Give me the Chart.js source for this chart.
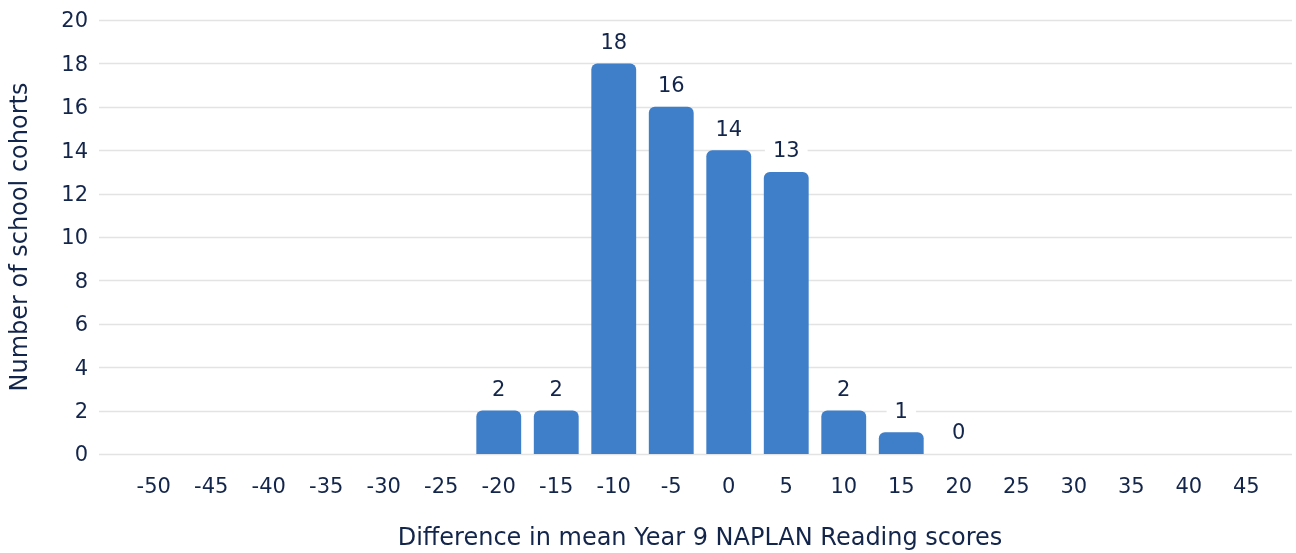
<!DOCTYPE html>
<html>
<head>
<meta charset="utf-8">
<script src="https://cdn.jsdelivr.net/npm/chart.js@4/dist/chart.umd.min.js"></script>
<style>
  html, body { margin: 0; padding: 0; background: #ffffff; }
  #wrap { width: 1296px; height: 553px; position: relative; }
</style>
</head>
<body>
<div id="wrap"><canvas id="c" width="1296" height="553"></canvas></div>
<script>
// Score-difference bins (lower edge) and number of school cohorts in each
const bins = ['-50','-45','-40','-35','-30','-25','-20','-15','-10','-5','0','5','10','15','20','25','30','35','40','45'];
const cohorts = [null, null, null, null, null, null, 2, 2, 18, 16, 14, 13, 2, 1, 0, null, null, null, null, null];
const yTicks = [0, 2, 4, 6, 8, 10, 12, 14, 16, 18, 20];

const INK = '#13254a';
const BAR = '#3f7ec8';
const GRID = '#e3e3e3';
const FONT = "'DejaVu Sans', sans-serif";

// Horizontal grid lines that run a little past the plot area on both sides
const wideGrid = {
  id: 'wideGrid',
  beforeDatasetsDraw(chart) {
    const { ctx, chartArea, scales } = chart;
    ctx.save();
    ctx.strokeStyle = GRID;
    ctx.lineWidth = 1.3;
    yTicks.forEach(v => {
      const y = Math.round(scales.y.getPixelForValue(v)) + 0.5;
      ctx.beginPath();
      ctx.moveTo(chartArea.left - 26, y);
      ctx.lineTo(chartArea.right + 17, y);
      ctx.stroke();
    });
    ctx.restore();
  }
};

// Value labels above the bars, on a white box
const valueLabels = {
  id: 'valueLabels',
  afterDatasetsDraw(chart) {
    const { ctx } = chart;
    const meta = chart.getDatasetMeta(0);
    ctx.save();
    ctx.font = "21px " + FONT;
    ctx.textAlign = 'center';
    ctx.textBaseline = 'middle';
    meta.data.forEach((bar, i) => {
      const v = cohorts[i];
      if (v === null || v === undefined) return;
      const txt = String(v);
      const cx = bar.x;
      const cy = bar.y - 21;
      const w = ctx.measureText(txt).width + 16;
      ctx.fillStyle = '#ffffff';
      ctx.fillRect(cx - w / 2, cy - 13, w, 26);
      ctx.fillStyle = INK;
      ctx.fillText(txt, cx, cy + 1);
    });
    ctx.restore();
  }
};

new Chart(document.getElementById('c'), {
  type: 'bar',
  data: {
    labels: bins,
    datasets: [{
      data: cohorts,
      backgroundColor: BAR,
      borderRadius: { topLeft: 6, topRight: 6, bottomLeft: 0, bottomRight: 0 },
      borderSkipped: 'start',
      categoryPercentage: 1.0,
      barPercentage: 0.78
    }]
  },
  options: {
    responsive: false,
    animation: false,
    devicePixelRatio: 1,
    layout: { padding: { left: 6, right: 21, top: 20, bottom: 0 } },
    plugins: { legend: { display: false }, tooltip: { enabled: false } },
    scales: {
      x: {
        grid: { display: false, drawTicks: false },
        border: { display: false },
        ticks: { color: INK, font: { family: FONT, size: 21 }, padding: 21, maxRotation: 0, autoSkip: false },
        title: { display: true, text: 'Difference in mean Year 9 NAPLAN Reading scores', color: INK, font: { family: FONT, size: 24 }, padding: { top: 20, bottom: 0 } },
        afterFit(s) { s.height = 99; }
      },
      y: {
        min: 0, max: 20,
        afterBuildTicks(s) { s.ticks = yTicks.map(v => ({ value: v })); },
        grid: { display: false, drawTicks: false },
        border: { display: false },
        ticks: { color: INK, font: { family: FONT, size: 21 }, padding: 37, labelOffset: 2 },
        title: { display: true, text: 'Number of school cohorts', color: INK, font: { family: FONT, size: 24 }, padding: { top: 0, bottom: 0 } },
        afterFit(s) { s.width = 119; s.paddingTop = 0; s.paddingBottom = 0; }
      }
    }
  },
  plugins: [wideGrid, valueLabels]
});
</script>
</body>
</html>
